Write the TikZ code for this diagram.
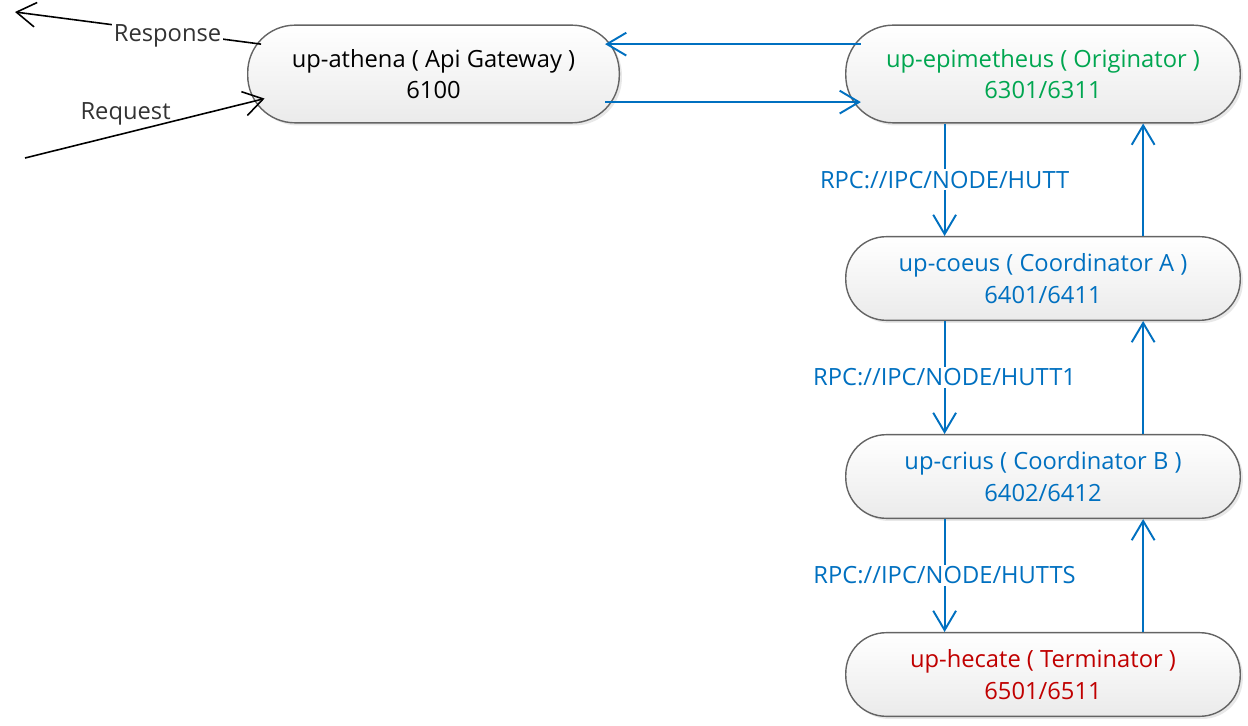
\documentclass[tikz,border=0pt]{standalone}
\usepackage{fontspec}
\setmainfont{Open Sans}
\usetikzlibrary{arrows.meta,shadows}
\definecolor{rpcblue}{RGB}{0,112,192}
\definecolor{origgreen}{RGB}{0,166,80}
\definecolor{termred}{RGB}{192,0,0}
\definecolor{edgegray}{RGB}{100,100,100}
\tikzset{
  svc/.style={draw=edgegray, line width=0.8pt, rounded corners=23pt, top color=white, bottom color=gray!16,
    drop shadow={opacity=0.18, shadow xshift=1.5pt, shadow yshift=-1.5pt},
    align=center, font=\fontsize{13.5}{18}\selectfont, inner sep=0pt,
    minimum width=224.5pt, minimum height=47.6pt},
  bigsvc/.style={svc, rounded corners=27pt, minimum height=55.6pt},
  rpc/.style={rpcblue, line width=1.1pt, -{Straight Barb[length=11pt,width=13pt]}},
  ext/.style={black, line width=0.9pt, -{Straight Barb[length=11pt,width=14pt]}},
  lbl/.style={font=\fontsize{13.5}{15}\selectfont, inner sep=1pt}
}
\begin{document}
\begin{tikzpicture}[x=0.02cm, y=-0.02cm]
    \useasboundingbox (0,0) rectangle (1248,726);
    \node[bigsvc, minimum width=211.5pt] (athena) at (433.5,74) {up-athena ( Api Gateway )\\6100};
    \node[bigsvc, text=origgreen] (epi) at (1043,74) {up-epimetheus ( Originator )\\6301/6311};
    \node[svc, text=rpcblue] (coeus) at (1043,278.5) {up-coeus ( Coordinator A )\\6401/6411};
    \node[svc, text=rpcblue] (crius) at (1043,476.5) {up-crius ( Coordinator B )\\6402/6412};
    \node[svc, text=termred] (hecate) at (1043,674.5) {up-hecate ( Terminator )\\6501/6511};
    \coordinate (respend) at (15,12);
    \coordinate (reqstart) at (25,158);
    \draw[ext] ([xshift=8pt,yshift=17pt]athena.west) -- node[lbl, pos=0.38, yshift=-2pt, fill=white, text=black!80] {Response} (respend);
    \draw[ext] (reqstart) -- node[lbl, pos=0.42, above=3pt, text=black!80] {Request} ([xshift=10pt,yshift=-14pt]athena.west);
    \draw[rpc] ([xshift=9pt,yshift=17pt]epi.west) -- ([xshift=-8.5pt,yshift=17pt]athena.east);
    \draw[rpc] ([xshift=-8.5pt,yshift=-16pt]athena.east) -- ([xshift=9pt,yshift=-16pt]epi.west);
    \draw[rpc] ([xshift=-56pt]epi.south) -- node[lbl, fill=white, text=rpcblue] {RPC://IPC/NODE/HUTT} ([xshift=-56pt]coeus.north);
    \draw[rpc] ([xshift=-56pt]coeus.south) -- node[lbl, fill=white, text=rpcblue] {RPC://IPC/NODE/HUTT1} ([xshift=-56pt]crius.north);
    \draw[rpc] ([xshift=-56pt]crius.south) -- node[lbl, fill=white, text=rpcblue] {RPC://IPC/NODE/HUTTS} ([xshift=-56pt]hecate.north);
    \draw[rpc] ([xshift=57pt]coeus.north) -- ([xshift=57pt]epi.south);
    \draw[rpc] ([xshift=57pt]crius.north) -- ([xshift=57pt]coeus.south);
    \draw[rpc] ([xshift=57pt]hecate.north) -- ([xshift=57pt]crius.south);
\end{tikzpicture}
\end{document}
